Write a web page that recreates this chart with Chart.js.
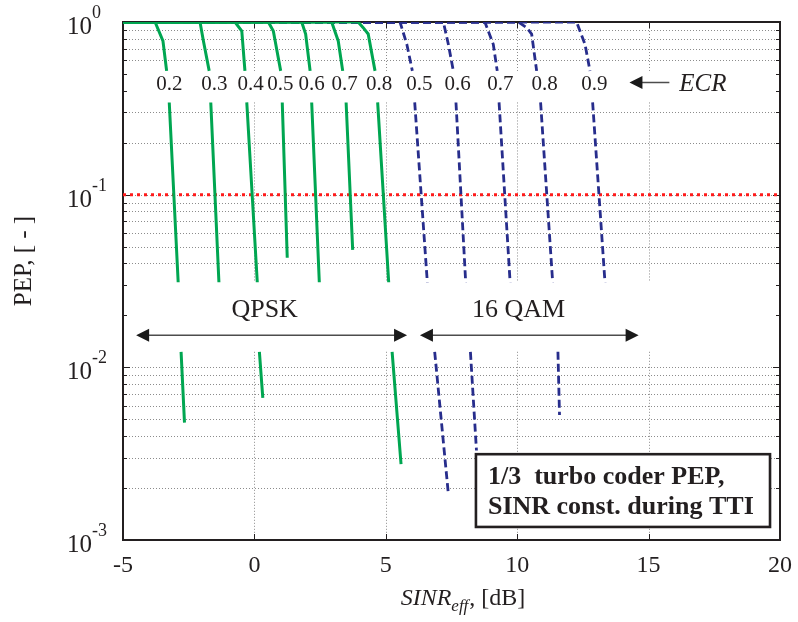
<!DOCTYPE html>
<html lang="en">
<head>
    <meta charset="UTF-8">
    <title>Turbo coder PEP vs SINR</title>
    <script src="https://cdn.jsdelivr.net/npm/chart.js"></script>
    <style>
        body, html {
            margin: 0;
            padding: 0;
            background: #fff;
        }
        .chart-box {
            position: relative;
            width: 798px;
            height: 622px;
        }
    </style>
</head>
<body>
<div class="chart-box">
    <canvas id="pepChart"></canvas>
</div>

<script>
    // ECR of each curve
    const qpskEcr = [0.2, 0.3, 0.4, 0.5, 0.6, 0.7, 0.8];
    const qamEcr = [0.5, 0.6, 0.7, 0.8, 0.9];

    // SINR_eff [dB] / PEP, null = curve interrupted (label strips)
    const qpskSinr = [
        [-5, -3.78, -3.48, -3.34, null, -3.24, -2.90, null, -2.79, -2.66],
        [-5, -2.07, -1.94, -1.72, null, -1.66, -1.35],
        [-5, -0.74, -0.48, -0.36, null, -0.29, 0.11, null, 0.19, 0.32],
        [-5, 0.53, 0.72, 1.00, null, 1.06, 1.25],
        [-5, 1.80, 1.95, 2.12, null, 2.18, 2.47],
        [-5, 2.94, 3.19, 3.36, null, 3.49, 3.74],
        [-5, 3.95, 4.14, 4.33, 4.59, null, 4.69, 5.11, null, 5.24, 5.58]
    ];
    const qpskPep = [
        [1, 1, 0.777, 0.521, null, 0.342, 0.0311, null, 0.0123, 0.00478],
        [1, 1, 0.777, 0.521, null, 0.342, 0.0311],
        [1, 1, 0.887, 0.521, null, 0.342, 0.0311, null, 0.0123, 0.00665],
        [1, 1, 0.887, 0.521, null, 0.342, 0.0431],
        [1, 1, 0.852, 0.521, null, 0.342, 0.0311],
        [1, 1, 0.777, 0.521, null, 0.342, 0.0479],
        [1, 1, 0.927, 0.852, 0.521, null, 0.342, 0.0311, null, 0.0123, 0.00275]
    ];
    const qamSinr = [
        [-5, 5.54, 5.80, 6.01, null, 6.10, 6.58, null, 6.86, 7.37],
        [-5, 7.19, 7.38, 7.57, null, 7.67, 8.04, null, 8.22, 8.45],
        [-5, 8.77, 9.09, 9.24, null, 9.31, 9.73],
        [-5, 10.04, 10.36, 10.55, 10.74, null, 10.89, 11.35, null, 11.55, 11.61],
        [-5, 12.26, 12.58, 12.77, null, 12.87, 13.34]
    ];
    const qamPep = [
        [1, 1, 0.743, 0.521, null, 0.342, 0.0311, null, 0.0123, 0.00192],
        [1, 1, 0.743, 0.521, null, 0.342, 0.0311, null, 0.0123, 0.0033],
        [1, 1, 0.743, 0.521, null, 0.342, 0.0311],
        [1, 1, 0.927, 0.852, 0.521, null, 0.342, 0.0311, null, 0.0123, 0.0053],
        [1, 1, 0.743, 0.521, null, 0.342, 0.0311]
    ];

    const targetPep = 0.1;
    const xTicks = [-5, 0, 5, 10, 15, 20];
    const yTickExp = [0, -1, -2, -3];

    const serif = "'Liberation Serif', 'Times New Roman', serif";
    const ink = '#231f20';

    // turn x/y lists into points, a null keeps the line broken
    function toPoints(xs, ys) {
        return xs.map((x, i) => ({ x: x === null ? xs[i - 1] : x, y: ys[i] }));
    }

    const datasets = [];
    qpskEcr.forEach((ecr, i) => datasets.push({
        label: 'QPSK ' + ecr,
        data: toPoints(qpskSinr[i], qpskPep[i]),
        borderColor: '#00a651',
        borderWidth: 3,
        order: 0
    }));
    qamEcr.forEach((ecr, i) => datasets.push({
        label: '16QAM ' + ecr,
        data: toPoints(qamSinr[i], qamPep[i]),
        borderColor: '#272d8c',
        borderWidth: 2.8,
        borderDash: [8, 4],
        order: 1
    }));
    datasets.push({
        label: 'target',
        data: [{ x: xTicks[0], y: targetPep }, { x: xTicks[xTicks.length - 1], y: targetPep }],
        borderColor: '#ff1a1a',
        borderWidth: 3,
        borderDash: [3, 4],
        order: 2
    });

    // label strips (in PEP) that the grid and curves leave empty
    const gapBands = [[0.342, 0.521], [0.0123, 0.0311]];
    // where the ECR numbers sit, in dB
    const qpskLabelX = [-3.24, -1.52, -0.14, 0.99, 2.18, 3.43, 4.75];
    const qamLabelX = [6.28, 7.73, 9.36, 11.04, 12.94];

    function arrowHead(ctx, x, y, dir) {
        ctx.beginPath();
        ctx.moveTo(x, y);
        ctx.lineTo(x - dir * 13, y - 6.5);
        ctx.lineTo(x - dir * 13, y + 6.5);
        ctx.closePath();
        ctx.fill();
    }

    function doubleArrow(ctx, x1, x2, y) {
        ctx.strokeStyle = '#4d4d4d';
        ctx.lineWidth = 1.5;
        ctx.beginPath();
        ctx.moveTo(x1 + 8, y);
        ctx.lineTo(x2 - 8, y);
        ctx.stroke();
        ctx.fillStyle = '#1a1a1a';
        arrowHead(ctx, x1, y, -1);
        arrowHead(ctx, x2, y, 1);
    }

    const decorPlugin = {
        id: 'decor',
        beforeDatasetsDraw(chart) {
            const { ctx, chartArea: a, scales: { x, y } } = chart;
            const bands = gapBands.map(b => [y.getPixelForValue(b[1]), y.getPixelForValue(b[0])]);
            ctx.save();

            // dotted grid
            ctx.strokeStyle = '#8c8c8c';
            ctx.lineWidth = 1;
            ctx.setLineDash([1, 2]);
            for (let e = -3; e < 0; e++) {
                for (let m = 1; m < 10; m++) {
                    const v = m * Math.pow(10, e);
                    if (v <= 0.0011) continue;
                    const py = Math.round(y.getPixelForValue(v)) + 0.5;
                    if (bands.some(b => py >= b[0] - 1 && py <= b[1] + 1)) continue;
                    ctx.beginPath();
                    ctx.moveTo(a.left, py);
                    ctx.lineTo(a.right, py);
                    ctx.stroke();
                }
            }
            xTicks.slice(1, -1).forEach(t => {
                const px = Math.round(x.getPixelForValue(t)) + 0.5;
                const segs = [a.top, bands[0][0], bands[0][1], bands[1][0], bands[1][1], a.bottom];
                for (let i = 0; i < segs.length; i += 2) {
                    ctx.beginPath();
                    ctx.moveTo(px, segs[i]);
                    ctx.lineTo(px, segs[i + 1]);
                    ctx.stroke();
                }
            });
            ctx.setLineDash([]);

            // frame and inward ticks
            ctx.strokeStyle = ink;
            ctx.lineWidth = 2;
            ctx.strokeRect(a.left, a.top, a.right - a.left, a.bottom - a.top);
            ctx.lineWidth = 1;
            for (let e = -3; e < 0; e++) {
                for (let m = 1; m < 10; m++) {
                    const v = m * Math.pow(10, e);
                    if (v <= 0.0011) continue;
                    const py = Math.round(y.getPixelForValue(v)) + 0.5;
                    const len = m === 1 ? 7 : 4;
                    ctx.beginPath();
                    ctx.moveTo(a.left, py);
                    ctx.lineTo(a.left + len, py);
                    ctx.moveTo(a.right, py);
                    ctx.lineTo(a.right - len, py);
                    ctx.stroke();
                }
            }
            xTicks.slice(1, -1).forEach(t => {
                const px = Math.round(x.getPixelForValue(t)) + 0.5;
                ctx.beginPath();
                ctx.moveTo(px, a.bottom);
                ctx.lineTo(px, a.bottom - 6);
                ctx.moveTo(px, a.top);
                ctx.lineTo(px, a.top + 6);
                ctx.stroke();
            });
            ctx.restore();
        },
        afterDraw(chart) {
            const { ctx, chartArea: a, scales: { x, y } } = chart;
            ctx.save();
            ctx.fillStyle = ink;

            // y tick labels 10^k
            yTickExp.forEach(k => {
                const py = y.getPixelForValue(Math.pow(10, k));
                ctx.font = `25px ${serif}`;
                ctx.textAlign = 'left';
                ctx.textBaseline = 'alphabetic';
                ctx.fillText('10', 67, py + 12);
                ctx.font = `18px ${serif}`;
                ctx.fillText(String(k), 92, py - 4);
            });

            // axis titles
            ctx.save();
            ctx.translate(24, 261);
            ctx.rotate(-Math.PI / 2);
            ctx.font = `25px ${serif}`;
            ctx.textAlign = 'center';
            ctx.textBaseline = 'middle';
            ctx.fillText('PEP, [ - ]', 0, 0);
            ctx.restore();

            ctx.textAlign = 'left';
            ctx.textBaseline = 'alphabetic';
            ctx.font = `italic 24px ${serif}`;
            const w1 = ctx.measureText('SINR').width;
            ctx.font = `italic 17px ${serif}`;
            const w2 = ctx.measureText('eff').width;
            ctx.font = `24px ${serif}`;
            const w3 = ctx.measureText(', [dB]').width;
            let tx = 463 - (w1 + w2 + w3 + 1) / 2;
            ctx.font = `italic 24px ${serif}`;
            ctx.fillText('SINR', tx, 605);
            ctx.font = `italic 17px ${serif}`;
            ctx.fillText('eff', tx + w1, 611);
            ctx.font = `24px ${serif}`;
            ctx.fillText(', [dB]', tx + w1 + w2 + 1, 605);

            // ECR numbers
            ctx.font = `21px ${serif}`;
            ctx.textAlign = 'center';
            ctx.textBaseline = 'middle';
            const ly = y.getPixelForValue(0.432);
            qpskEcr.forEach((e, i) => ctx.fillText(e.toFixed(1), x.getPixelForValue(qpskLabelX[i]), ly));
            qamEcr.forEach((e, i) => ctx.fillText(e.toFixed(1), x.getPixelForValue(qamLabelX[i]), ly));

            // <- ECR
            const ay = y.getPixelForValue(0.446);
            const ax1 = x.getPixelForValue(14.27);
            const ax2 = x.getPixelForValue(15.79);
            ctx.strokeStyle = '#4d4d4d';
            ctx.lineWidth = 1.5;
            ctx.beginPath();
            ctx.moveTo(ax1 + 8, ay);
            ctx.lineTo(ax2, ay);
            ctx.stroke();
            ctx.fillStyle = '#1a1a1a';
            arrowHead(ctx, ax1, ay, -1);
            ctx.fillStyle = ink;
            ctx.font = `italic 25px ${serif}`;
            ctx.textAlign = 'left';
            ctx.fillText('ECR', x.getPixelForValue(16.17), y.getPixelForValue(0.436));

            // modulation ranges
            const my = y.getPixelForValue(0.01533);
            doubleArrow(ctx, x.getPixelForValue(-4.5), x.getPixelForValue(5.81), my);
            doubleArrow(ctx, x.getPixelForValue(6.3), x.getPixelForValue(14.62), my);
            ctx.fillStyle = ink;
            ctx.font = `26px ${serif}`;
            ctx.textAlign = 'center';
            ctx.textBaseline = 'middle';
            const ty = y.getPixelForValue(0.0214);
            ctx.fillText('QPSK', x.getPixelForValue(0.39), ty);
            ctx.fillText('16 QAM', x.getPixelForValue(10.05), ty);

            // note box
            const bx1 = x.getPixelForValue(8.43), bx2 = x.getPixelForValue(19.62);
            const by1 = y.getPixelForValue(0.00314), by2 = y.getPixelForValue(0.00119);
            ctx.fillStyle = '#fff';
            ctx.fillRect(bx1, by1, bx2 - bx1, by2 - by1);
            ctx.strokeStyle = ink;
            ctx.lineWidth = 2.6;
            ctx.strokeRect(bx1, by1, bx2 - bx1, by2 - by1);
            ctx.fillStyle = ink;
            ctx.font = `bold 26px ${serif}`;
            ctx.textAlign = 'left';
            ctx.textBaseline = 'alphabetic';
            ctx.fillText('1/3  turbo coder PEP,', bx1 + 12, by1 + 30);
            ctx.fillText('SINR const. during TTI', bx1 + 12, by1 + 60);

            ctx.restore();
        }
    };

    const ctx = document.getElementById('pepChart').getContext('2d');
    const pepChart = new Chart(ctx, {
        type: 'line',
        data: { datasets: datasets },
        options: {
            responsive: true,
            maintainAspectRatio: false,
            animation: false,
            layout: { padding: { left: 0, right: 18, top: 22, bottom: 0 } },
            elements: {
                point: { radius: 0 },
                line: { tension: 0, fill: false }
            },
            spanGaps: false,
            scales: {
                x: {
                    type: 'linear',
                    min: xTicks[0],
                    max: xTicks[xTicks.length - 1],
                    afterBuildTicks: s => { s.ticks = xTicks.map(v => ({ value: v })); },
                    afterFit: s => {
                        s.height = 82;
                        s.paddingLeft = 0;
                        s.paddingRight = 0;
                    },
                    grid: { display: false },
                    border: { display: false },
                    ticks: {
                        color: ink,
                        padding: 3,
                        maxRotation: 0,
                        font: { family: serif, size: 24 }
                    }
                },
                y: {
                    type: 'logarithmic',
                    min: Math.pow(10, yTickExp[yTickExp.length - 1]),
                    max: Math.pow(10, yTickExp[0]),
                    afterFit: s => { s.width = 123; },
                    grid: { display: false },
                    border: { display: false },
                    ticks: { display: false }
                }
            },
            plugins: {
                legend: { display: false },
                tooltip: { enabled: false }
            }
        },
        plugins: [decorPlugin]
    });
</script>
</body>
</html>
